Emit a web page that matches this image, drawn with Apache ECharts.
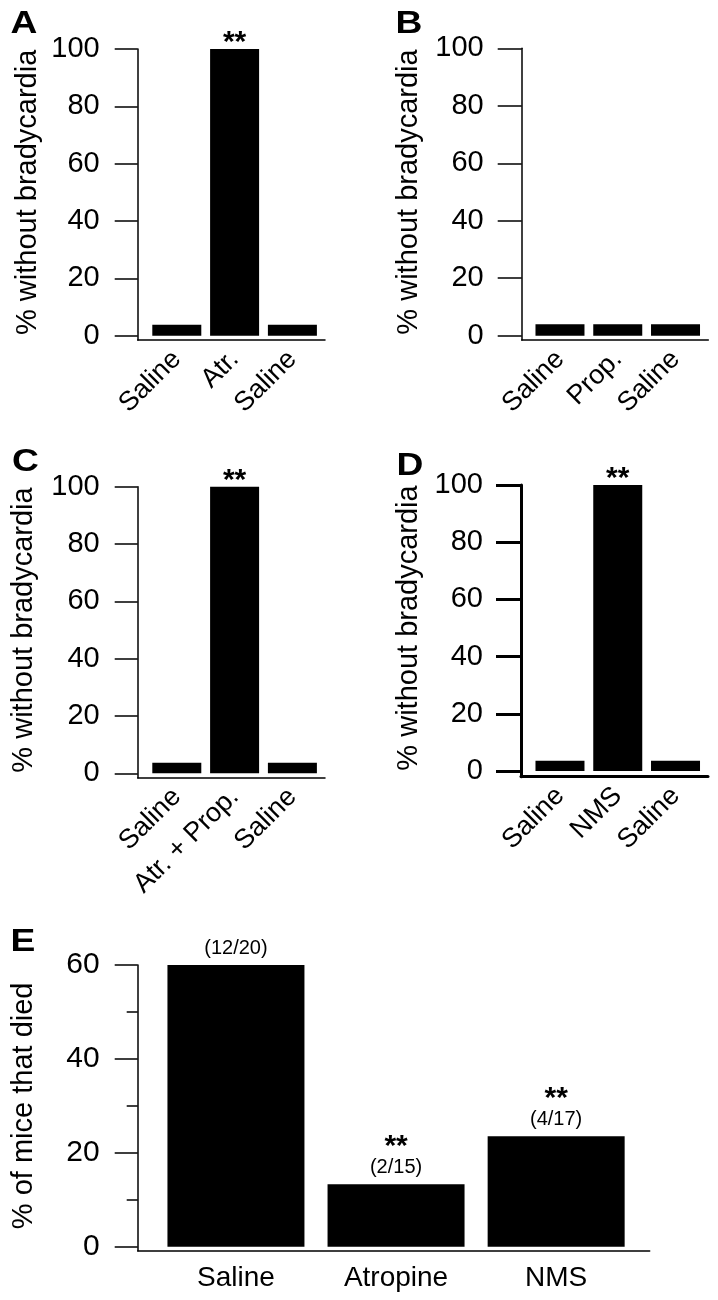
<!DOCTYPE html>
<html>
<head>
<meta charset="utf-8">
<script src="https://cdn.jsdelivr.net/npm/echarts@6/dist/echarts.min.js"></script>
<style>
html,body{margin:0;padding:0;background:#fff;}
#chart{width:718px;height:1300px;}
</style>
</head>
<body>
<div id="chart"></div>
<script>
// ---------------- data ----------------
const catsA = ['Saline', 'Atr.', 'Saline'];
const valsA = [3.8, 100, 3.8];
const sigA = ['', '**', ''];

const catsB = ['Saline', 'Prop.', 'Saline'];
const valsB = [4, 4, 4];
const sigB = ['', '', ''];

const catsC = ['Saline', 'Atr. + Prop.', 'Saline'];
const valsC = [3.7, 100, 3.7];
const sigC = ['', '**', ''];

const catsD = ['Saline', 'NMS', 'Saline'];
const valsD = [3.6, 100, 3.6];
const sigD = ['', '**', ''];

const catsE = ['Saline', 'Atropine', 'NMS'];
const valsE = [60, 13.3, 23.5];
const countsE = ['(12/20)', '(2/15)', '(4/17)'];
const sigE = ['', '**', '**'];

const bradyTicks = [0, 20, 40, 60, 80, 100];
const deathTicks = [0, 20, 40, 60];

const panelLetters = ['A', 'B', 'C', 'D', 'E'];
const bradyTitle = '% without bradycardia';
const deathTitle = '% of mice that died';

// ---------------- layout ----------------
const FONT = 'Liberation Sans, Arial, Helvetica, sans-serif';
const layouts = [
  {yLine:137.7, top:49,    zero:335.7,  xLine:340,    barL:147.9, barR:321.3, xEnd:325,   lw:1.5, tick:23, barW:49,  nameGap:95, rot:45, lblMargin:15, tickFont:29, lx:24,  ly:24},
  {yLine:521.7, top:48.3,  zero:335.7,  xLine:340,    barL:531.1, barR:704.4, xEnd:708.3, lw:1.5, tick:24, barW:49,  nameGap:98, rot:45, lblMargin:15, tickFont:29, lx:409, ly:24},
  {yLine:137.7, top:486.7, zero:773.3,  xLine:777.7,  barL:147.9, barR:321.3, xEnd:325,   lw:1.5, tick:23, barW:49,  nameGap:99, rot:45, lblMargin:15, tickFont:29, lx:25.5,ly:462},
  {yLine:521,   top:485,   zero:771,    xLine:776.7,  barL:531.1, barR:704.4, xEnd:708,   lw:3,   tick:25, barW:49,  nameGap:98, rot:45, lblMargin:15, tickFont:29, lx:410, ly:466},
  {yLine:137.7, top:965,   zero:1246.7, xLine:1250.7, barL:155.9, barR:636.2, xEnd:649.7, lw:1.5, tick:23, barW:137, nameGap:99, rot:0,  lblMargin:14, tickFont:30, lx:23,  ly:942}
];

const panels = [
  {cats:catsA, vals:valsA, sig:sigA, ticks:bradyTicks, name:bradyTitle},
  {cats:catsB, vals:valsB, sig:sigB, ticks:bradyTicks, name:bradyTitle},
  {cats:catsC, vals:valsC, sig:sigC, ticks:bradyTicks, name:bradyTitle},
  {cats:catsD, vals:valsD, sig:sigD, ticks:bradyTicks, name:bradyTitle},
  {cats:catsE, vals:valsE, sig:sigE, ticks:deathTicks, name:deathTitle, counts:countsE}
];

const grid = [], xAxis = [], yAxis = [], series = [], graphic = [];

panels.forEach((p, i) => {
  const L = layouts[i];
  const gBar = grid.length;
  // bar grid
  grid.push({left:L.barL, top:L.top, width:L.barR - L.barL, height:L.zero - L.top, containLabel:false, outerBoundsMode:'none'});
  // overlay grid for the axis lines
  const gAx = grid.length;
  grid.push({left:L.yLine, top:L.top, width:L.xEnd - L.yLine, height:L.xLine - L.top, containLabel:false, outerBoundsMode:'none'});

  const tMin = p.ticks[0], tMax = p.ticks[p.ticks.length - 1];
  const tInt = p.ticks[1] - p.ticks[0];

  xAxis.push({
    gridIndex:gBar, type:'category', data:p.cats, offset:L.xLine - L.zero,
    axisLine:{show:false}, axisTick:{show:false}, splitLine:{show:false},
    axisLabel:{interval:0, rotate:L.rot, margin:L.lblMargin, fontSize:(L.rot ? 27 : 28), color:'#000', fontFamily:FONT}
  });
  yAxis.push({
    gridIndex:gBar, type:'value', min:tMin, max:tMax, interval:tInt, offset:L.barL - L.yLine,
    axisLine:{show:false},
    axisTick:{show:true, length:L.tick, lineStyle:{color:'#000', width:L.lw}},
    minorTick:{show:(i === 4), splitNumber:2, length:11, lineStyle:{color:'#000', width:L.lw}},
    splitLine:{show:false}, minorSplitLine:{show:false},
    axisLabel:{margin:38, fontSize:L.tickFont, color:'#000', fontFamily:FONT},
    name:p.name, nameLocation:'middle', nameGap:L.nameGap, nameRotate:90,
    nameTextStyle:{fontSize:29, color:'#000', fontFamily:FONT}
  });
  // axis lines
  xAxis.push({
    gridIndex:gAx, type:'value', min:0, max:1,
    axisLine:{show:true, onZero:false, lineStyle:{color:'#000', width:L.lw}},
    axisTick:{show:false}, axisLabel:{show:false}, splitLine:{show:false}
  });
  yAxis.push({
    gridIndex:gAx, type:'value', min:0, max:1,
    axisLine:{show:true, onZero:false, lineStyle:{color:'#000', width:L.lw}},
    axisTick:{show:false}, axisLabel:{show:false}, splitLine:{show:false}
  });

  const xi = xAxis.length - 2, yi = yAxis.length - 2;
  let label;
  if (p.counts) {
    label = {
      show:true, position:'top', distance:6,
      formatter: (d) => (p.sig[d.dataIndex] ? '{s|' + p.sig[d.dataIndex] + '}\n' : '') + '{n|' + p.counts[d.dataIndex] + '}',
      rich:{
        s:{fontSize:30, fontWeight:'bold', color:'#000', fontFamily:FONT, lineHeight:20, align:'center'},
        n:{fontSize:20, color:'#000', fontFamily:FONT, lineHeight:22, align:'center'}
      }
    };
  } else {
    label = {
      show:true, position:'top', distance:0,
      formatter: (d) => p.sig[d.dataIndex],
      fontSize:30, fontWeight:'bold', color:'#000', fontFamily:FONT, lineHeight:12
    };
  }
  series.push({
    type:'bar', xAxisIndex:xi, yAxisIndex:yi, data:p.vals, barWidth:L.barW,
    itemStyle:{color:'#000'}, label:label, silent:true, animation:false
  });

  graphic.push({
    type:'text', x:L.lx, y:L.ly, scaleX:1.2, scaleY:1,
    style:{text:panelLetters[i], x:0, y:0, align:'center', verticalAlign:'middle',
      font:'bold 31px ' + FONT, fill:'#000'}
  });
});

const chart = echarts.init(document.getElementById('chart'), null, {renderer:'canvas'});
chart.setOption({
  backgroundColor:'#fff',
  animation:false,
  textStyle:{fontFamily:FONT, color:'#000'},
  grid:grid, xAxis:xAxis, yAxis:yAxis, series:series, graphic:graphic,
  tooltip:{show:false}
});
</script>
</body>
</html>
